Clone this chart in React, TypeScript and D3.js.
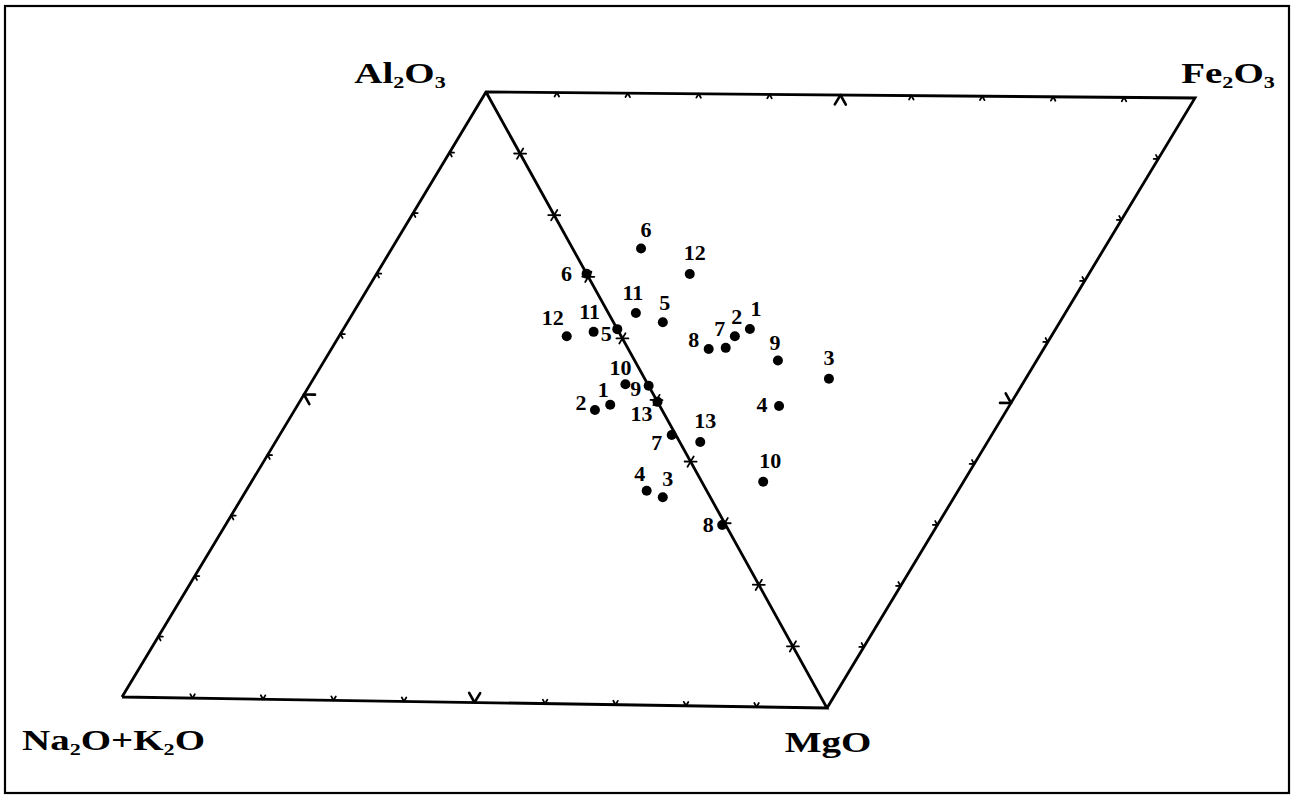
import React from 'react';
import * as d3 from 'd3';

// sample numbers
const samples = ['1', '2', '3', '4', '5', '6', '7', '8', '9', '10', '11', '12', '13'];

// left triangle (wt.%): Na2O+K2O, Al2O3, MgO
const leftAlk = [7.0, 9.6, 6.8, 8.6, 0, 0, 0.6, 0.5, 0, 3.2, 3.6, 7.8, 0];
const leftAl = [49.1, 48.2, 34.1, 35.1, 61.5, 70.5, 44.3, 29.7, 52.3, 52.5, 61.0, 60.2, 49.7];
const leftMg = [43.9, 42.2, 59.1, 56.3, 38.5, 29.5, 55.1, 69.8, 47.7, 44.3, 35.4, 32.0, 50.3];

// right triangle (wt.%): Al2O3, Fe2O3, MgO
const rightAl = [42.9, 44.4, 27.6, 32.3, 55.7, 65.0, 44.7, 47.0, 36.3, 28.1, 60.2, 56.0, 40.3];
const rightFe = [18.8, 16.1, 26.1, 16.9, 7.0, 9.7, 13.9, 11.4, 20.3, 8.7, 3.9, 14.6, 2.9];
const rightMg = [38.3, 39.5, 46.3, 50.8, 37.3, 25.3, 41.4, 41.6, 43.4, 63.2, 35.8, 29.4, 56.8];

// axis tick fractions
const ticks = d3.range(1, 10).map(i => i / 10);

// corners of the diagram (page px)
const V = {
  al: [486, 92],
  fe: [1195, 98],
  alk: [122, 697],
  mg: [827, 708],
};

// where each number sits relative to its dot
const leftLabelOff: Record<string, number[]> = {
  '1': [-7, -15], '2': [-14, -8], '3': [5, -19], '4': [-7, -17], '5': [-11, 4],
  '6': [-20, 0], '7': [-15, 7], '8': [-14, 0], '9': [-13, 3], '10': [-5, -17],
  '11': [-4, -20], '12': [-14, -19], '13': [-16, 12],
};
const rightLabelOff: Record<string, number[]> = {
  '1': [6, -21], '2': [2, -20], '3': [0, -21], '4': [-17, -1], '5': [2, -20],
  '6': [5, -19], '7': [-6, -19], '8': [-15, -9], '9': [-3, -18], '10': [7, -21],
  '11': [-3, -20], '12': [5, -21], '13': [5, -22],
};

const pct = d3.scaleLinear().domain([0, 100]).range([0, 1]);

// barycentric -> page coordinates
const tern = (p0: number[], p1: number[], p2: number[]) => (a: number, b: number, c: number) => {
  const s = a + b + c;
  const w0 = pct((a / s) * 100), w1 = pct((b / s) * 100), w2 = pct((c / s) * 100);
  return [w0 * p0[0] + w1 * p1[0] + w2 * p2[0], w0 * p0[1] + w1 * p1[1] + w2 * p2[1]];
};

const unit = (from: number[], to: number[]) => {
  const dx = to[0] - from[0], dy = to[1] - from[1];
  const l = Math.hypot(dx, dy);
  return [dx / l, dy / l];
};

// ticks along edge p->q, arms pointing to third vertex
function edgeTicks(p: number[], q: number[], r: number[], small: number, big: number, key: string) {
  const ux1 = unit(p, r), ux2 = unit(q, r);
  const pos = d3.scaleLinear().domain([0, 1]);
  const out: JSX.Element[] = [];
  ticks.forEach((t, i) => {
    const x = pos.range([p[0], q[0]])(t);
    const y = pos.range([p[1], q[1]])(t);
    const isMid = Math.abs(t - 0.5) < 1e-6;
    const len = isMid ? big : small;
    const sw = isMid && big > small ? 2.6 : 1.8;
    out.push(
      <g key={key + i} stroke="#000" strokeWidth={sw} strokeLinecap="round">
        <line x1={x} y1={y} x2={x + ux1[0] * len} y2={y + ux1[1] * len} />
        <line x1={x} y1={y} x2={x + ux2[0] * len} y2={y + ux2[1] * len} />
      </g>
    );
  });
  return out;
}

const labelFont = "'Liberation Serif', 'Times New Roman', serif";

function Oxide({ x, y, parts, anchor }: { x: number; y: number; parts: [string, boolean][]; anchor: string }) {
  return (
    <text
      transform={`translate(${x},${y}) scale(1.3,1)`}
      fontFamily={labelFont}
      fontWeight="bold"
      fontSize={30}
      textAnchor={anchor}
      fill="#000"
    >
      {parts.map(([s, sub], i) =>
        sub ? (
          <tspan key={i} fontSize={17} dy={5}>{s}</tspan>
        ) : (
          <tspan key={i} dy={i > 0 && parts[i - 1][1] ? -5 : 0}>{s}</tspan>
        )
      )}
    </text>
  );
}

function Points({ pts, off, side }: { pts: { s: string; p: number[] }[]; off: Record<string, number[]>; side: string }) {
  return (
    <g>
      {pts.map(({ s, p }) => (
        <g key={side + s}>
          <circle cx={p[0]} cy={p[1]} r={5} fill="#000" />
          <text
            x={p[0] + off[s][0]}
            y={p[1] + off[s][1]}
            textAnchor="middle"
            dominantBaseline="central"
            fontFamily={labelFont}
            fontWeight="bold"
            fontSize={22}
          >
            {s}
          </text>
        </g>
      ))}
    </g>
  );
}

export default function App() {
  const left = tern(V.alk, V.al, V.mg);
  const right = tern(V.al, V.fe, V.mg);

  const leftPts = samples.map((s, i) => ({ s, p: left(leftAlk[i], leftAl[i], leftMg[i]) }));
  const rightPts = samples.map((s, i) => ({ s, p: right(rightAl[i], rightFe[i], rightMg[i]) }));

  const outline = d3.line()([V.alk, V.al, V.fe, V.mg, V.alk, V.mg, V.al] as [number, number][]) || '';

  return (
    <svg
      width={1295}
      height={800}
      style={{ position: 'absolute', left: 0, top: 0, background: '#fff' }}
    >
      <rect x={5} y={6} width={1284} height={787} fill="none" stroke="#000" strokeWidth={2.2} />
      <path d={outline} fill="none" stroke="#000" strokeWidth={2.8} strokeLinejoin="miter" />

      {edgeTicks(V.alk, V.al, V.mg, 4.5, 11, 'l')}
      {edgeTicks(V.alk, V.mg, V.al, 4.5, 11, 'b')}
      {edgeTicks(V.al, V.fe, V.mg, 4.5, 11, 't')}
      {edgeTicks(V.fe, V.mg, V.al, 4.5, 11, 'r')}
      {edgeTicks(V.al, V.mg, V.alk, 6, 6, 'dl')}
      {edgeTicks(V.al, V.mg, V.fe, 6, 6, 'dr')}

      <Points pts={leftPts} off={leftLabelOff} side="L" />
      <Points pts={rightPts} off={rightLabelOff} side="R" />

      <Oxide x={400} y={83} anchor="middle" parts={[['Al', false], ['2', true], ['O', false], ['3', true]]} />
      <Oxide x={1228} y={83} anchor="middle" parts={[['Fe', false], ['2', true], ['O', false], ['3', true]]} />
      <Oxide x={22} y={750} anchor="start" parts={[['Na', false], ['2', true], ['O+K', false], ['2', true], ['O', false]]} />
      <Oxide x={828} y={752} anchor="middle" parts={[['MgO', false]]} />
    </svg>
  );
}
